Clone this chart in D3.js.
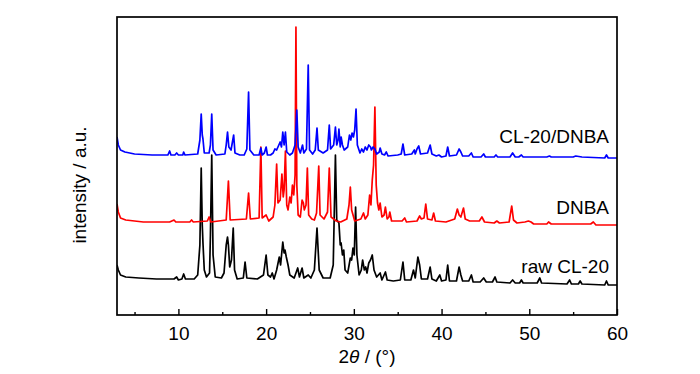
<!DOCTYPE html>
<html>
<head>
<meta charset="utf-8">
<script src="https://cdn.jsdelivr.net/npm/d3@7"></script>
<style>
  html, body { margin: 0; padding: 0; background: #fff; }
  text { font-family: "Liberation Sans", Arial, sans-serif; fill: #000; }
</style>
</head>
<body>
<svg id="chart" width="700" height="374"></svg>
<script>
// ---- data (2θ in degrees, intensity in a.u.) ----
const seriesNames = ["raw CL-20", "DNBA", "CL-20/DNBA"];
const seriesColors = ["#000000", "#ff0000", "#0000ff"];

const rawCL20 = [[3.0,50],[3.15,45],[3.4,40],[4.0,38],[5.5,37],[7.5,36],[9.5,36],[9.8,38],[10.0,35],[10.4,36],[10.6,41],[10.8,36],[11.8,36],[12.2,40],[12.45,70],[12.6,147],[12.72,90],[12.8,72],[12.95,45],[13.2,38],[13.55,42],[13.65,80],[13.8,160],[13.95,60],[14.2,38],[14.9,37],[15.2,42],[15.45,70],[15.6,78],[15.7,70],[15.85,48],[16.05,55],[16.25,87],[16.4,45],[16.7,36],[17.4,37],[17.6,53],[17.8,37],[19.0,36],[19.7,40],[20.0,60],[20.2,40],[20.5,38],[20.7,42],[20.9,36],[21.2,45],[21.5,58],[21.65,50],[21.9,73],[22.05,62],[22.15,65],[22.3,58],[22.5,50],[22.7,40],[23.2,37],[23.6,47],[23.8,38],[24.1,47],[24.3,37],[24.8,40],[25.1,37],[25.5,45],[25.8,87],[26.05,45],[26.5,37],[27.3,37],[27.65,50],[27.9,160],[28.05,95],[28.3,92],[28.45,70],[28.55,72],[28.7,60],[28.85,65],[29.0,45],[29.3,42],[29.6,57],[29.75,55],[29.9,67],[30.05,60],[30.2,108],[30.35,60],[30.6,40],[30.85,45],[31.0,55],[31.2,45],[31.35,48],[31.5,42],[31.7,52],[31.9,55],[32.1,60],[32.3,45],[32.6,38],[33.0,42],[33.2,35],[33.6,43],[33.8,35],[34.5,34],[35.3,35],[35.6,53],[35.8,35],[36.5,35],[36.8,45],[37.0,37],[37.3,58],[37.5,50],[37.7,36],[38.4,36],[38.7,48],[38.9,36],[39.4,34],[39.8,40],[40.0,34],[40.5,35],[40.7,50],[40.9,34],[41.7,34],[42.0,48],[42.2,40],[42.4,34],[43.1,34],[43.4,40],[43.6,33],[44.4,33],[44.8,37],[45.1,33],[45.8,33],[46.1,38],[46.3,33],[47.8,32],[48.1,35],[48.4,32],[48.9,32],[49.1,35],[49.3,32],[50.9,32],[51.2,37],[51.4,32],[54.3,31],[54.6,35],[54.8,31],[55.6,31],[55.8,34],[56.0,31],[58.6,30],[58.8,34],[59.0,30],[60.0,30]];

const dnba = [[3.0,111],[3.15,103],[3.4,97],[4.0,95],[6.0,93],[9.0,93],[9.5,95],[9.7,93],[11.3,93],[11.5,95],[11.7,93],[13.3,94],[13.5,98],[13.7,93],[15.45,95],[15.7,134],[15.9,95],[17.75,96],[18.0,122],[18.2,96],[19.2,97],[19.4,168],[19.55,97],[20.0,100],[20.3,94],[20.8,98],[21.0,110],[21.2,151],[21.35,112],[21.6,115],[21.8,141],[21.95,118],[22.05,125],[22.2,164],[22.35,110],[22.5,105],[22.7,118],[22.85,112],[23.0,130],[23.15,120],[23.3,140],[23.4,288],[23.5,130],[23.65,100],[23.9,98],[24.1,115],[24.25,112],[24.35,105],[24.55,110],[24.7,147],[24.85,100],[25.2,96],[25.5,95],[25.75,102],[26.0,149],[26.15,100],[26.6,96],[27.0,103],[27.2,147],[27.4,98],[28.0,94],[28.5,93],[29.2,96],[29.45,110],[29.6,128],[29.75,105],[30.1,94],[30.8,96],[31.1,102],[31.3,96],[31.6,100],[31.8,120],[31.95,110],[32.1,135],[32.25,150],[32.4,208],[32.55,130],[32.7,112],[32.85,105],[33.0,112],[33.2,98],[33.45,100],[33.6,108],[33.8,96],[34.0,98],[34.1,103],[34.3,94],[35.5,94],[35.8,97],[36.0,93],[37.2,94],[37.5,99],[37.7,96],[38.0,97],[38.2,111],[38.4,96],[38.9,95],[39.1,102],[39.3,94],[40.5,93],[41.5,96],[41.8,106],[42.0,100],[42.2,98],[42.5,107],[42.7,96],[43.2,94],[44.3,94],[44.6,98],[44.9,93],[46.0,92],[46.3,94],[46.6,92],[47.7,93],[48.0,109],[48.2,95],[48.6,92],[49.5,93],[49.9,94],[50.2,93],[50.5,91],[52.0,91],[52.2,93],[52.5,91],[57.0,91],[57.3,93],[57.6,90],[60.0,90]];

const cl20dnba = [[3.0,178],[3.15,170],[3.4,165],[3.9,163],[5.0,161],[7.0,160],[8.8,160],[9.0,164],[9.15,160],[9.6,160],[9.8,162],[10.0,160],[10.5,160],[10.6,163],[10.75,160],[12.2,161],[12.45,175],[12.6,201],[12.72,180],[12.8,176],[12.95,162],[13.5,162],[13.65,170],[13.8,201],[13.95,165],[14.3,160],[15.3,161],[15.45,170],[15.6,183],[15.75,168],[16.0,165],[16.3,180],[16.45,162],[17.0,160],[17.5,160],[17.8,166],[18.0,223],[18.15,165],[18.6,160],[19.2,160],[19.4,167],[19.55,160],[19.8,162],[20.0,168],[20.15,160],[20.5,160],[20.8,162],[21.0,166],[21.2,165],[21.45,170],[21.6,173],[21.75,168],[21.9,183],[22.05,170],[22.2,183],[22.35,163],[22.7,160],[23.0,162],[23.3,170],[23.5,205],[23.65,168],[23.9,162],[24.15,170],[24.3,162],[24.6,166],[24.8,250],[24.95,165],[25.3,161],[25.6,165],[25.8,187],[25.95,165],[26.5,162],[27.0,165],[27.2,190],[27.35,166],[27.7,170],[27.9,188],[28.05,170],[28.2,175],[28.3,186],[28.45,168],[28.55,178],[28.7,170],[28.9,165],[29.3,168],[29.5,180],[29.65,175],[29.8,182],[29.95,178],[30.1,185],[30.25,206],[30.4,170],[30.7,162],[30.9,166],[31.1,163],[31.3,168],[31.5,165],[31.7,170],[31.9,168],[32.0,165],[32.2,168],[32.4,166],[32.6,161],[32.9,163],[33.0,167],[33.2,161],[33.5,160],[33.7,163],[33.9,159],[35.0,160],[35.4,161],[35.6,171],[35.8,160],[36.6,161],[36.9,165],[37.0,161],[37.2,166],[37.4,169],[37.6,161],[38.4,162],[38.7,170],[38.9,161],[39.4,159],[39.7,160],[40.0,158],[40.5,159],[40.7,168],[40.9,159],[41.7,160],[42.0,166],[42.2,163],[42.4,159],[43.1,159],[43.4,162],[43.6,158],[44.5,158],[44.8,161],[45.0,158],[46.0,158],[46.2,160],[46.4,158],[47.8,158],[48.1,162],[48.4,158],[48.8,158],[49.1,160],[49.3,158],[52.0,158],[52.3,159],[52.5,158],[55.0,158],[55.3,159],[56.0,158],[58.6,157],[58.8,160],[59.0,157],[60.0,157]];

const majorTicks = [10, 20, 30, 40, 50, 60];
const minorTicks = [5, 15, 25, 35, 45, 55];
const xDomain = [3, 60];
const yDomain = [0, 298];

// ---- layout ----
const svg = d3.select("#chart");
const L = 117, R = 617, T = 17, B = 315;

const x = d3.scaleLinear().domain(xDomain).range([L, R]);
const y = d3.scaleLinear().domain(yDomain).range([B, T]);

svg.append("defs").append("clipPath").attr("id", "clip")
  .append("rect").attr("x", L).attr("y", T).attr("width", R - L).attr("height", B - T);

const line = d3.line().x(d => x(d[0])).y(d => y(d[1]));

const allSeries = [rawCL20, dnba, cl20dnba];
const g = svg.append("g").attr("clip-path", "url(#clip)");
allSeries.forEach((s, i) => {
  g.append("path").datum(s)
    .attr("d", line)
    .attr("fill", "none")
    .attr("stroke", seriesColors[i])
    .attr("stroke-width", 1.7)
    .attr("stroke-linejoin", "round");
});

// axes
const xAxis = d3.axisBottom(x).tickValues(majorTicks).tickSize(-6).tickPadding(11.5).tickFormat(d3.format("d"));
const ax = svg.append("g").attr("transform", `translate(0,${B})`).call(xAxis);
ax.select(".domain").remove();
ax.selectAll(".tick line").attr("stroke", "#000").attr("stroke-width", 1.4);
ax.selectAll(".tick text").attr("font-size", 19).attr("font-family", "'Liberation Sans', Arial, sans-serif");

const xMinor = d3.axisBottom(x).tickValues(minorTicks).tickSize(-3).tickFormat("");
const axm = svg.append("g").attr("transform", `translate(0,${B})`).call(xMinor);
axm.select(".domain").remove();
axm.selectAll(".tick line").attr("stroke", "#000").attr("stroke-width", 1.4);

// frame
svg.append("rect").attr("x", L).attr("y", T).attr("width", R - L).attr("height", B - T)
  .attr("fill", "none").attr("stroke", "#000").attr("stroke-width", 1.7);

// series labels
const labelY = [273, 214, 143];
seriesNames.forEach((n, i) => {
  svg.append("text").attr("x", 609).attr("y", labelY[i])
    .attr("text-anchor", "end").attr("font-size", 19).text(n);
});

// axis titles
const xt = svg.append("text").attr("x", (L + R) / 2).attr("y", 363)
  .attr("text-anchor", "middle").attr("font-size", 19);
xt.append("tspan").text("2");
xt.append("tspan").attr("font-style", "italic").text("θ");
xt.append("tspan").text(" / (°)");

svg.append("text").attr("transform", "translate(86,185) rotate(-90)")
  .attr("text-anchor", "middle").attr("font-size", 19).text("intensity / a.u.");
</script>
</body>
</html>
